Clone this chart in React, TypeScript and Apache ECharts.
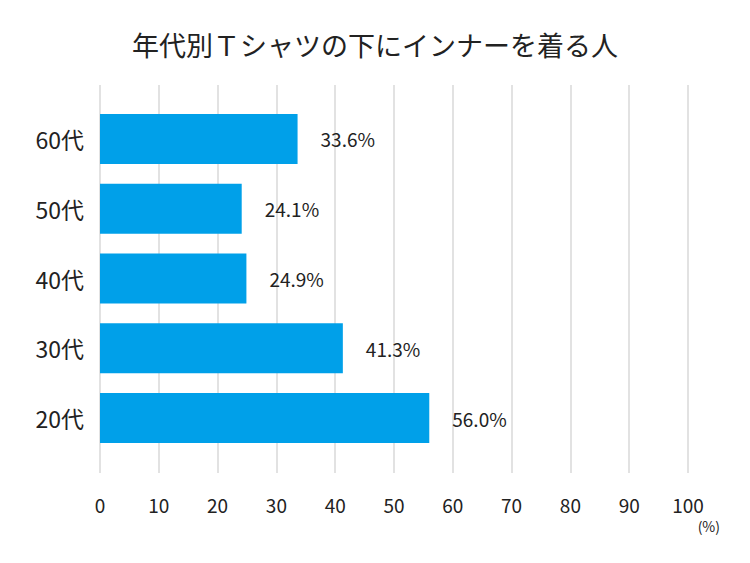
import React, { useEffect, useRef } from "react";
import * as echarts from "echarts";

const title = "年代別Ｔシャツの下にインナーを着る人";
const categories = ["20代", "30代", "40代", "50代", "60代"];
const values = [56.0, 41.3, 24.9, 24.1, 33.6];
const unitLabel = "(%)";

const FONT = "'Noto Sans CJK JP', 'Noto Sans', sans-serif";

export default function App() {
  const ref = useRef<HTMLDivElement>(null);
  useEffect(() => {
    document.body.style.margin = "0";
    if (!ref.current) return;
    const chart = echarts.init(ref.current, null, { renderer: "svg" });
    chart.setOption({
      animation: false,
      backgroundColor: "#ffffff",
      textStyle: { fontFamily: FONT },
      title: {
        text: title,
        left: "center",
        top: 26,
        textStyle: { fontFamily: FONT, fontSize: 27, fontWeight: "normal", color: "#222" },
      },
      grid: [
        { left: 100, right: 62, top: 104, height: 349 },
        { left: 100, right: 62, top: 85, height: 388 },
      ],
      xAxis: [
        {
          gridIndex: 0,
          type: "value",
          min: 0,
          max: 100,
          interval: 10,
          show: false,
        },
        {
          gridIndex: 1,
          type: "value",
          min: 0,
          max: 100,
          interval: 10,
          axisLine: { show: false },
          axisTick: { show: false },
          splitLine: { show: true, lineStyle: { color: "#d9d9d9", width: 1.5 } },
          axisLabel: { fontFamily: FONT, fontSize: 19, color: "#222", margin: 22 },
        },
      ],
      yAxis: [
        {
          gridIndex: 0,
          type: "category",
          data: categories,
          axisLine: { show: false },
          axisTick: { show: false },
          splitLine: { show: false },
          axisLabel: { fontFamily: FONT, fontSize: 23, color: "#222", margin: 16 },
        },
        {
          gridIndex: 1,
          type: "value",
          show: false,
        },
      ],
      graphic: [
        {
          type: "text",
          right: 30,
          top: 519,
          style: { text: unitLabel, fontFamily: FONT, fontSize: 14, fill: "#222" },
        },
      ],
      series: [
        {
          type: "bar",
          xAxisIndex: 0,
          yAxisIndex: 0,
          data: values,
          barWidth: 50,
          itemStyle: { color: "#00a0e9" },
          label: {
            show: true,
            position: "right",
            distance: 23,
            fontFamily: FONT,
            fontSize: 19,
            color: "#222",
            formatter: (p: any) => p.value.toFixed(1) + "%",
          },
        },
      ],
    });
    return () => chart.dispose();
  }, []);
  return <div ref={ref} style={{ width: 750, height: 563 }} />;
}
